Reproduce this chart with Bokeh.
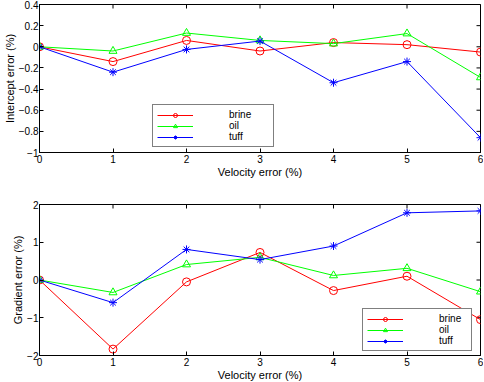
import math
from bokeh.plotting import figure
from bokeh.layouts import column
from bokeh.models import Range1d, FixedTicker, Legend, LegendItem
from bokeh.embed import file_html
from bokeh.resources import INLINE

velocity = [0, 1, 2, 3, 4, 5, 6]

intercept_brine = [0.0, -0.14, 0.06, -0.04, 0.04, 0.02, -0.05]
intercept_oil = [0.0, -0.04, 0.13, 0.06, 0.03, 0.125, -0.29]
intercept_tuff = [0.0, -0.24, -0.025, 0.054, -0.34, -0.14, -0.86]

gradient_brine = [0.0, -1.83, -0.05, 0.73, -0.28, 0.10, -1.05]
gradient_oil = [0.0, -0.33, 0.41, 0.60, 0.12, 0.31, -0.31]
gradient_tuff = [0.0, -0.60, 0.81, 0.54, 0.90, 1.78, 1.83]

x_ticks = [0, 1, 2, 3, 4, 5, 6]
top_y_ticks = [0.4, 0.2, 0, -0.2, -0.4, -0.6, -0.8, -1]
top_y_labels = ["0.4", "0.2", "0", "\u22120.2", "\u22120.4", "\u22120.6", "\u22120.8", "\u22121"]
bot_y_ticks = [2, 1, 0, -1, -2]
bot_y_labels = ["2", "1", "0", "\u22121", "\u22122"]

FONT = "Liberation Sans"


def style_axis(ax, ticks, labels=None):
    ax.ticker = FixedTicker(ticks=ticks)
    ax.major_tick_in = 4
    ax.major_tick_out = 0
    ax.minor_tick_in = 0
    ax.minor_tick_out = 0
    ax.axis_line_color = "black"
    ax.major_tick_line_color = "black"
    ax.major_label_text_font = FONT
    ax.major_label_text_font_size = "10px"
    ax.major_label_text_color = "black"
    ax.major_label_standoff = 1
    ax.axis_label_text_font = FONT
    ax.axis_label_text_font_size = "11px"
    ax.axis_label_text_font_style = "normal"
    ax.axis_label_text_color = "black"
    ax.axis_label_standoff = 0
    if labels is not None:
        ax.major_label_overrides = {t: l for t, l in zip(ticks, labels)}


def make_fig(height, yr, yticks, ylabels, ylabel, brine, oil, tuff, loc, label_w,
             border_top, border_bottom):
    p = figure(width=483, height=height, output_backend="svg", toolbar_location=None,
               x_range=Range1d(0, 6), y_range=Range1d(*yr),
               min_border_left=20, min_border_right=3,
               min_border_top=border_top, min_border_bottom=border_bottom)
    p.xgrid.visible = False
    p.ygrid.visible = False
    p.outline_line_color = "black"
    p.background_fill_color = "white"
    p.border_fill_color = "white"
    style_axis(p.xaxis[0], x_ticks)
    p.xaxis[0].major_label_standoff = 2
    p.xaxis[0].axis_label = "Velocity error (%)"
    style_axis(p.yaxis[0], yticks, ylabels)
    p.yaxis[0].axis_label = ylabel

    # inward ticks on the right and top edges of the box
    xmax = max(x_ticks)
    ymax = max(yticks)
    p.scatter([xmax] * len(yticks), yticks, marker="dash", size=8,
              line_color="black", line_width=1)
    p.scatter(x_ticks, [ymax] * len(x_ticks), marker="dash", size=8,
              angle=math.pi / 2, line_color="black", line_width=1)

    items = []
    series = [(brine, "red", "circle", "brine"),
              (oil, "#00ff00", "triangle", "oil"),
              (tuff, "blue", "asterisk", "tuff")]
    for ys, col, mk, name in series:
        l = p.line(velocity, ys, line_color=col, line_width=1)
        s = p.scatter(velocity, ys, marker=mk, size=8, line_color=col,
                      fill_color=None, line_width=1)
        items.append(LegendItem(label=name, renderers=[l, s]))
    leg = Legend(items=items, location=loc)
    leg.border_line_color = "black"
    leg.border_line_width = 1
    leg.background_fill_color = "white"
    leg.background_fill_alpha = 1
    leg.label_text_font = FONT
    leg.label_text_font_size = "10px"
    leg.label_text_color = "black"
    leg.label_text_line_height = 1.0
    leg.glyph_width = 36
    leg.glyph_height = 10
    leg.label_height = 10
    leg.label_standoff = 36
    leg.label_width = label_w
    leg.spacing = 0
    leg.padding = 4
    leg.margin = 0
    p.add_layout(leg, "center")
    return p

p1 = make_fig(180, (-1, 0.4), top_y_ticks, top_y_labels, "Intercept error (%)",
              intercept_brine, intercept_oil, intercept_tuff, (113, 5), 40, 4, 24)
p2 = make_fig(203, (-2, 2), bot_y_ticks, bot_y_labels, "Gradient error (%)",
              gradient_brine, gradient_oil, gradient_tuff, (323, 4), 28, 24, 24)

p = column(p1, p2, spacing=0)
open("out.html", "w").write(file_html(p, INLINE))
